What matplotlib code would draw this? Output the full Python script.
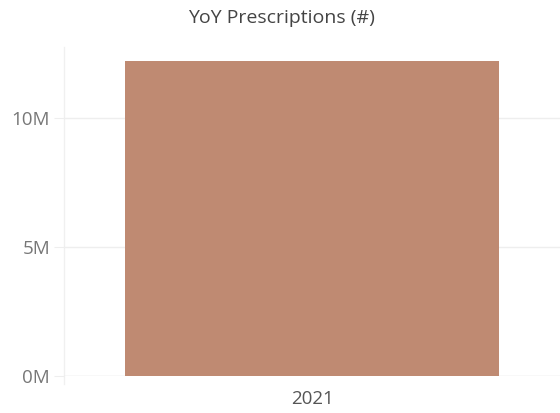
import matplotlib.pyplot as plt
from matplotlib.ticker import FuncFormatter

categories = ["2021"]
values = [12.2e6]
yticks = [0, 5e6, 10e6]

plt.rcParams['font.family'] = ['Open Sans', 'DejaVu Sans']

W, H = 560, 413
fig = plt.figure(figsize=(W/100, H/100), dpi=100)
ax = fig.add_axes([64/W, 1-376/H, (560-64)/W, (376-47)/H])

x = list(range(len(categories)))
ax.bar(x, values, width=0.756, color='#BF8A72', zorder=3)
ax.set_xlim(-0.5, 0.5)
ax.set_ylim(0, 12.75e6)
ax.set_yticks(yticks)
ax.yaxis.set_major_formatter(FuncFormatter(lambda v, p: f"{int(round(v/1e6))}M"))
ax.set_xticks(x)
ax.set_xticklabels(categories)

for s in ['top', 'right', 'bottom', 'left']:
    ax.spines[s].set_visible(False)
ax.plot([0, 0], [-8/329, 1], transform=ax.transAxes, color='#F0F0F0', lw=1, clip_on=False, zorder=1)
ax.grid(axis='y', color='#EEEEEE', linewidth=1, zorder=0)
ax.axhline(0, color='#EEEEEE', linewidth=1, zorder=1)
ax.tick_params(axis='y', length=7, color='#EEEEEE', labelcolor='#777777', labelsize=13.5, pad=3)
ax.tick_params(axis='x', length=0, labelcolor='#555555', labelsize=13.5, pad=10)

fig.text(281/W, 1-18/H, "YoY Prescriptions (#)", ha='center', va='center', fontsize=14, color='#444444')

fig.savefig('out.png', dpi=100)
